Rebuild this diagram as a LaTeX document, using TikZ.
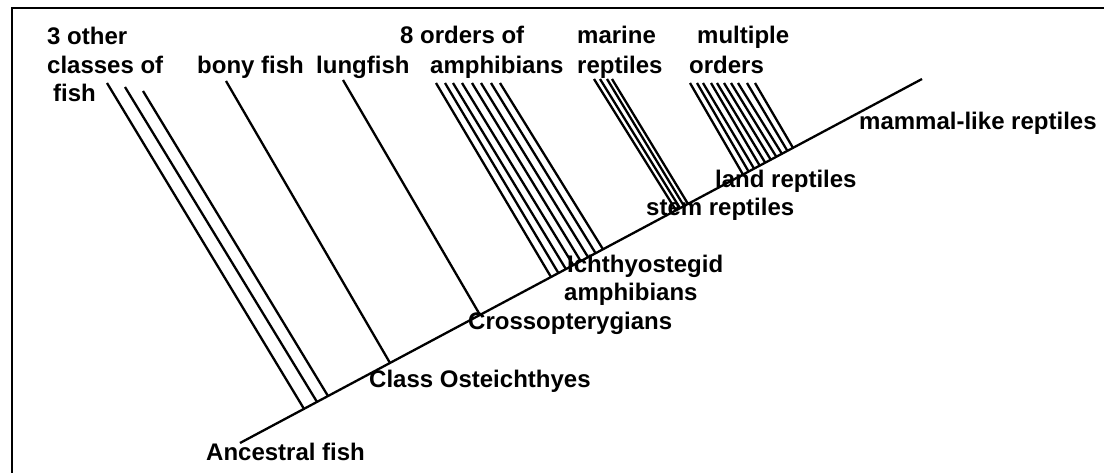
\documentclass[tikz,border=0pt]{standalone}
\usepackage{fontspec}
\setmainfont{Liberation Sans}
\usetikzlibrary{calc}
\begin{document}
\begin{tikzpicture}[x=1pt,y=-1pt,
  lbl/.style={anchor=base west, inner sep=0pt, font=\fontsize{24}{28}\selectfont\bfseries},
  branch/.style={line width=2.3pt, black},
  frame/.style={line width=2.5pt, black}]
\useasboundingbox (0,0) rectangle (1104,472);
\clip (0,0) rectangle (1104,472);
% frame
\coordinate (F1) at (12,500);
\coordinate (F2) at (12,8);
\coordinate (F3) at (1130,8);
\draw[frame] (F1) -- (F2) -- (F3);
% main line
\coordinate (A) at (240,443);
\coordinate (B) at (922,79);
\draw[branch] (A) -- (B);
% other fish
\foreach \tx/\ty/\bx [count=\i] in {107/83/304, 125/87/317, 143/91/328}{
  \coordinate (fT\i) at (\tx,\ty);
  \coordinate (fB\i) at ($(A)!{(\bx-240)/682}!(B)$);
  \draw[branch] (fT\i) -- (fB\i);
}
% bony fish
\coordinate (boT) at (226,81);
\coordinate (boB) at ($(A)!{(390-240)/682}!(B)$);
\draw[branch] (boT) -- (boB);
% lungfish
\coordinate (luT) at (343,80);
\coordinate (luB) at ($(A)!{(480-240)/682}!(B)$);
\draw[branch] (luT) -- (luB);
% amphibians
\foreach \tx/\bx [count=\i] in {436/551, 445/558.4, 453/565.9, 462/573.3, 472/580.7, 481/588.1, 491/595.6, 500/603}{
  \coordinate (amT\i) at (\tx,83);
  \coordinate (amB\i) at ($(A)!{(\bx-240)/682}!(B)$);
  \draw[branch] (amT\i) -- (amB\i);
}
% marine reptiles
\foreach \tx/\bx [count=\i] in {594/676, 600/680, 607/684, 612/688}{
  \coordinate (maT\i) at (\tx,79);
  \coordinate (maB\i) at ($(A)!{(\bx-240)/682}!(B)$);
  \draw[branch] (maT\i) -- (maB\i);
}
% multiple orders
\foreach \tx/\bx [count=\i] in {690/743, 697/748.6, 703/754.1, 711/759.7, 717/765.2, 724/770.8, 731/776.3, 738/781.9, 747/787.4, 755/793}{
  \coordinate (muT\i) at (\tx,83);
  \coordinate (muB\i) at ($(A)!{(\bx-240)/682}!(B)$);
  \draw[branch] (muT\i) -- (muB\i);
}
% labels
\node[lbl] (l1a) at (47,44) {3 other};
\node[lbl] (l1b) at (47,73) {classes of};
\node[lbl] (l1c) at (53,101) {fish};
\node[lbl] (l2) at (197,73) {bony fish};
\node[lbl] (l3) at (316,73) {lungfish};
\node[lbl] (l4a) at (400,43) {8 orders of};
\node[lbl] (l4b) at (430,73) {amphibians};
\node[lbl] (l5a) at (577,43) {marine};
\node[lbl] (l5b) at (577,73) {reptiles};
\node[lbl] (l6a) at (697,43) {multiple};
\node[lbl] (l6b) at (689,73) {orders};
\node[lbl] (l7) at (859,129) {mammal-like reptiles};
\node[lbl] (l8) at (715,187) {land reptiles};
\node[lbl] (l9) at (646,215) {stem reptiles};
\node[lbl] (l10a) at (567,272) {Ichthyostegid};
\node[lbl] (l10b) at (564,300) {amphibians};
\node[lbl] (l11) at (468,329) {Crossopterygians};
\node[lbl] (l12) at (369,387) {Class Osteichthyes};
\node[lbl] (l13) at (206,460) {Ancestral fish};
\end{tikzpicture}
\end{document}
